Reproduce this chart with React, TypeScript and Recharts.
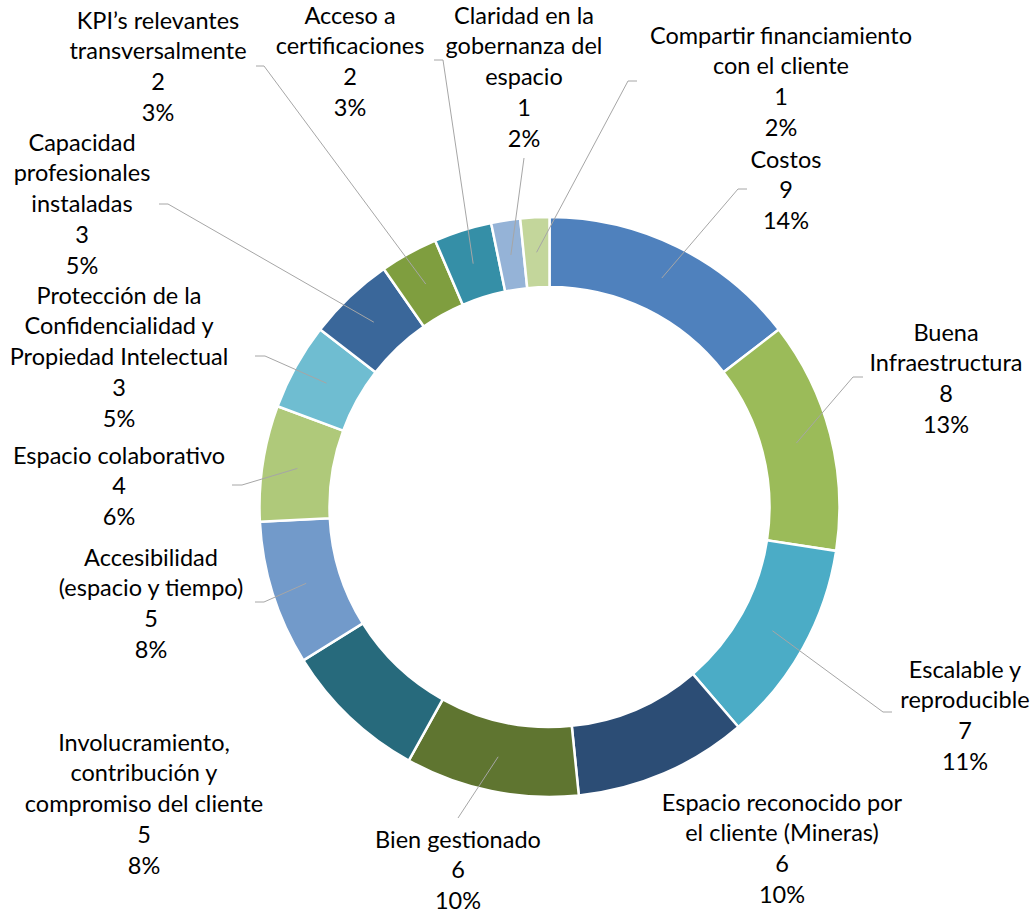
import { PieChart, Pie, Cell } from 'recharts';

const CATEGORIES = [
  'Costos',
  'Buena Infraestructura',
  'Escalable y reproducible',
  'Espacio reconocido por el cliente (Mineras)',
  'Bien gestionado',
  'Involucramiento, contribución y compromiso del cliente',
  'Accesibilidad (espacio y tiempo)',
  'Espacio colaborativo',
  'Protección de la Confidencialidad y Propiedad Intelectual',
  'Capacidad profesionales instaladas',
  'KPI’s relevantes transversalmente',
  'Acceso a certificaciones',
  'Claridad en la gobernanza del espacio',
  'Compartir financiamiento con el cliente',
];

// same names, wrapped the way the labels show them
const LABEL_LINES = [
  ['Costos'],
  ['Buena', 'Infraestructura'],
  ['Escalable y', 'reproducible'],
  ['Espacio reconocido por', 'el cliente (Mineras)'],
  ['Bien gestionado'],
  ['Involucramiento,', 'contribución y', 'compromiso del cliente'],
  ['Accesibilidad', '(espacio y tiempo)'],
  ['Espacio colaborativo'],
  ['Protección de la', 'Confidencialidad y', 'Propiedad Intelectual'],
  ['Capacidad', 'profesionales', 'instaladas'],
  ['KPI’s relevantes', 'transversalmente'],
  ['Acceso a', 'certificaciones'],
  ['Claridad en la', 'gobernanza del', 'espacio'],
  ['Compartir financiamiento', 'con el cliente'],
];

const VALUES = [9, 8, 7, 6, 6, 5, 5, 4, 3, 3, 2, 2, 1, 1];
const PERCENTS = ['14%', '13%', '11%', '10%', '10%', '8%', '8%', '6%', '5%', '5%', '3%', '3%', '2%', '2%'];

const COLORS = [
  '#4F81BD', '#9BBB59', '#4BACC6', '#2C4D75', '#5F7530', '#276A7C', '#729ACA',
  '#AFC97A', '#6FBDD1', '#3A679A', '#7F9E3F', '#358FA7', '#95B3D7', '#C3D69B',
];

// label placement: text centre x, first line centre y, optional elbow and end of leader line
const LABEL_LAYOUT: { x: number; y: number; elbow?: [number, number]; end?: number }[] = [
  { x: 786, y: 159, elbow: [738, 189], end: 747 },
  { x: 946, y: 332, elbow: [853, 377], end: 863 },
  { x: 965, y: 669, elbow: [883, 712], end: 892 },
  { x: 782, y: 802 },
  { x: 458, y: 839, elbow: [458, 818] },
  { x: 144, y: 742 },
  { x: 151, y: 557, elbow: [264, 602], end: 255 },
  { x: 119, y: 455, elbow: [242, 485], end: 232 },
  { x: 119, y: 295, elbow: [265, 356], end: 255 },
  { x: 82, y: 142, elbow: [168, 204], end: 159 },
  { x: 158, y: 20, elbow: [264, 66], end: 256 },
  { x: 350, y: 15, elbow: [443, 60], end: 434 },
  { x: 524, y: 15, elbow: [524, 158] },
  { x: 781, y: 35, elbow: [628, 81], end: 637 },
];

const LINE_H = 30.8;
const RADIAN = Math.PI / 180;

const data = CATEGORIES.map((name, i) => ({ name, value: VALUES[i] }));

const renderLabel = (props: any) => {
  const { cx, cy, midAngle, innerRadius, outerRadius, index } = props;
  const layout = LABEL_LAYOUT[index];
  const r = (innerRadius + outerRadius) / 2;
  const sx = cx + r * Math.cos(-midAngle * RADIAN);
  const sy = cy + r * Math.sin(-midAngle * RADIAN);
  const lines = [...LABEL_LINES[index], String(VALUES[index]), PERCENTS[index]];
  return (
    <g key={`label-${index}`}>
      {layout.elbow && (
        <polyline
          points={`${sx},${sy} ${layout.elbow[0]},${layout.elbow[1]} ${layout.end ?? layout.elbow[0]},${layout.elbow[1]}`}
          fill="none"
          stroke="#A6A6A6"
          strokeWidth={1}
        />
      )}
      <text textAnchor="middle" fontSize={23.5} fill="#000000" fontFamily="Lato, 'Open Sans', sans-serif">
        {lines.map((t, i) => (
          <tspan key={i} x={layout.x} y={layout.y + i * LINE_H + 8.5}>
            {t}
          </tspan>
        ))}
      </text>
    </g>
  );
};

export default function App() {
  return (
    <div style={{ width: 1034, height: 915, background: '#ffffff' }}>
      <style>{'body { margin: 0; }'}</style>
      <PieChart width={1034} height={915} margin={{ top: 0, right: 0, bottom: 0, left: 0 }}>
        <Pie
          data={data}
          dataKey="value"
          nameKey="name"
          cx={549.5}
          cy={507}
          innerRadius={220}
          outerRadius={290}
          startAngle={90}
          endAngle={-270}
          stroke="#ffffff"
          strokeWidth={2.5}
          label={renderLabel}
          labelLine={false}
          isAnimationActive={false}
        >
          {data.map((d, i) => (
            <Cell key={d.name} fill={COLORS[i]} />
          ))}
        </Pie>
      </PieChart>
    </div>
  );
}
